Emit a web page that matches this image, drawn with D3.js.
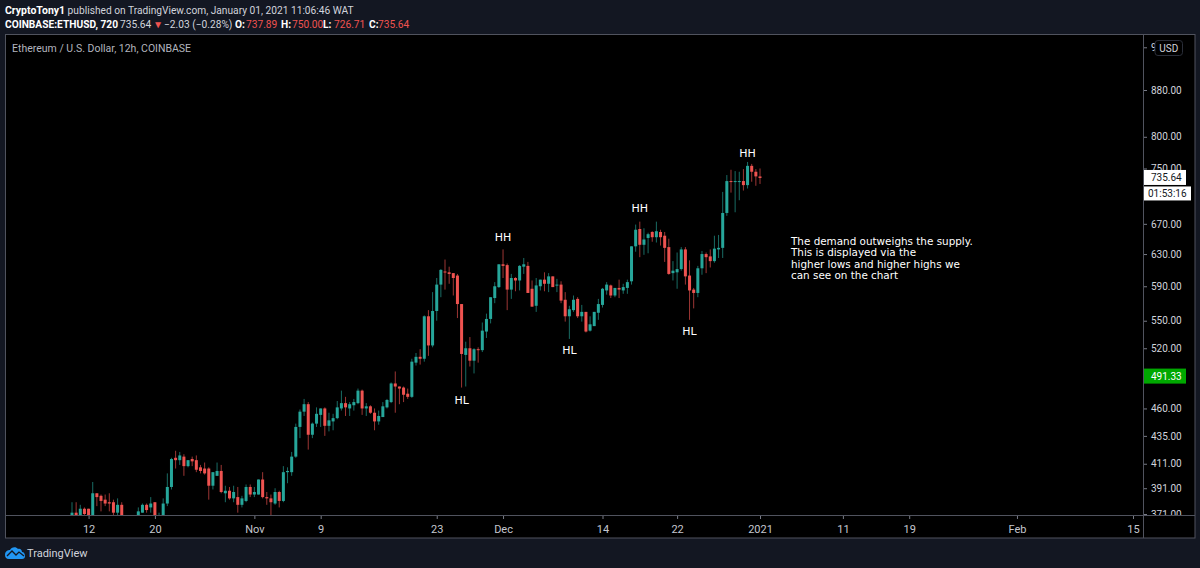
<!DOCTYPE html>
<html>
<head>
<meta charset="utf-8">
<script src="https://cdn.jsdelivr.net/npm/d3@7"></script>
<style>
  html, body { margin: 0; padding: 0; background: #131722; }
  svg { display: block; }
  text { font-family: Roboto, "Open Sans", sans-serif; }
</style>
</head>
<body>
<svg id="chart" width="1200" height="568"></svg>
<script>
// 12h candles
const opens = [367,372,368,375,375,367,387,385,382,380,380,372,378,368,363,364,367,372,378,376,380,367,367,379,392,416,414,417,409,415,414,408,407,407,393,401,405,387,389,383,384,378,381,392,386,386,398,384,383,379,388,381,404,404,417,443,457,464,436,446,454,460,444,448,451,460,465,460,463,465,477,460,462,456,448,452,461,466,484,481,480,474,471,505,511,509,555,523,561,592,608,607,606,603,569,513,520,507,519,518,538,552,576,589,617,616,586,600,597,614,615,587,567,590,598,593,602,591,592,574,555,562,575,555,560,539,544,559,568,585,591,579,588,585,588,596,640,663,642,651,659,652,659,654,639,606,607,611,636,603,586,582,612,630,627,621,636,638,685,731,730,730,731,725,754,745,737.89];
const highs = [380,380,378,376,375,396,387,386,386,387,382,383,380,370,367,370,376,379,379,384,380,372,383,403,416,422,421,419,414,417,418,410,412,408,404,412,410,393,392,393,392,385,394,394,392,398,404,388,386,391,389,409,408,421,446,459,469,466,447,461,460,461,456,455,467,477,471,466,469,479,478,465,463,460,458,466,469,485,496,481,481,479,509,515,519,556,562,583,600,611,623,614,606,605,569,527,532,520,521,548,558,577,595,617,636,618,605,601,616,625,620,597,600,598,607,606,602,599,596,583,567,579,577,568,560,555,560,575,588,595,592,588,598,593,598,640,669,673,664,658,660,673,662,659,650,621,632,639,639,622,588,615,634,632,636,654,655,715,740,748,746,745,749,760,757,749,750];
const lows = [363,364,365,370,364,365,377,373,377,373,369,369,365,363,360,361,365,372,372,372,364,364,365,377,390,407,410,401,408,409,404,403,402,382,390,401,387,380,382,380,372,376,380,384,384,386,383,378,368,378,376,380,395,401,416,433,453,423,433,443,443,435,439,440,450,458,453,453,458,464,454,453,455,440,445,452,460,465,456,464,466,469,470,502,503,506,512,521,550,577,586,593,579,553,480,481,501,494,505,516,531,547,570,588,600,562,575,584,585,605,582,566,560,585,584,583,589,583,570,549,530,560,553,549,537,538,544,551,565,580,576,577,576,581,581,592,633,626,629,631,646,645,641,620,604,597,587,609,592,551,564,577,604,606,613,619,625,625,681,714,686,703,717,720,730,724,726.71];
const closes = [372,368,375,371,367,387,384,381,379,379,372,378,367,365,365,368,373,378,374,379,367,369,379,392,415,414,418,409,414,413,406,405,403,393,404,405,388,389,383,388,378,383,392,386,388,398,384,383,380,388,381,404,405,417,443,457,464,436,446,455,460,444,449,451,461,465,461,464,466,477,460,462,456,448,453,462,468,484,481,479,473,471,506,511,509,555,523,561,592,610,607,605,600,569,514,520,507,519,518,539,552,577,590,617,615,586,600,597,615,617,582,566,591,598,593,602,589,592,573,555,563,574,555,560,538,546,560,569,587,592,579,588,586,589,595,640,662,642,649,656,652,660,652,638,605,609,611,636,602,585,582,612,630,626,621,637,638,685,731,730,731,731,725,754,745,738,735.64];

const priceTicks = [960,880,800,750,670,630,590,550,520,460,435,411,391,371];
const timeTickBars = [4,20,44,60,88,104,128,146,166,186,202,228,256];
const timeTickLabels = ['12','20','Nov','9','23','Dec','14','22','2021','11','19','Feb','15'];

const noteBars = [163,137,104,94,120,149];
const noteNames = ['HH','HH','HH','HL','HL','HL'];
const notePrices = [768,686,647,464,514,534];
const noteLines = ['The demand outweighs the supply.','This is displayed via the','higher lows and higher highs we','can see on the chart'];

const lastPrice = 735.64;
const greenPrice = 491.33;

const UP = '#26a69a', DOWN = '#ef5350';

const svg = d3.select('#chart');
const plot = { left: 6, right: 1144, top: 35, bottom: 516 };

const x = d3.scaleLinear().domain([0, 166]).range([72, 760]);
const y = d3.scaleLog().domain([371, 880]).range([514, 90]);

// frame
svg.append('rect').attr('x', 5.5).attr('y', 34.5).attr('width', 1189.5).attr('height', 503.5)
  .attr('fill', '#000').attr('stroke', '#50535e');

const defs = svg.append('defs');
defs.append('clipPath').attr('id', 'plotClip').append('rect')
  .attr('x', plot.left).attr('y', plot.top).attr('width', plot.right - plot.left).attr('height', plot.bottom - plot.top);
defs.append('clipPath').attr('id', 'priceClip').append('rect')
  .attr('x', plot.right).attr('y', plot.top).attr('width', 51).attr('height', plot.bottom - plot.top - 1);

// candles
const candles = svg.append('g').attr('clip-path', 'url(#plotClip)')
  .selectAll('g').data(opens).enter().append('g')
  .attr('fill', (d, i) => closes[i] >= d ? UP : DOWN)
  .attr('stroke', (d, i) => closes[i] >= d ? UP : DOWN);

candles.append('line')
  .attr('x1', (d, i) => x(i)).attr('x2', (d, i) => x(i))
  .attr('y1', (d, i) => y(highs[i])).attr('y2', (d, i) => y(lows[i]))
  .attr('stroke-width', 1).attr('stroke-opacity', 0.65);

candles.append('rect')
  .attr('x', (d, i) => x(i) - 1.5).attr('width', 3)
  .attr('y', (d, i) => y(Math.max(d, closes[i])))
  .attr('height', (d, i) => Math.max(1, Math.abs(y(d) - y(closes[i]))))
  .attr('stroke', 'none');

// axes lines
svg.append('line').attr('x1', plot.left).attr('x2', 1195).attr('y1', 515.5).attr('y2', 515.5).attr('stroke', '#50535e');
svg.append('line').attr('x1', 1143.5).attr('x2', 1143.5).attr('y1', 35).attr('y2', 538).attr('stroke', '#50535e');

// time axis
const timeAxis = svg.append('g').attr('transform', 'translate(0,516)')
  .call(d3.axisBottom(x).tickValues(timeTickBars).tickSize(3).tickPadding(6)
    .tickFormat((d, i) => timeTickLabels[i]));
timeAxis.select('.domain').remove();
timeAxis.selectAll('line').attr('stroke', '#787b86');
timeAxis.selectAll('text').attr('fill', '#c4c7cf').style('font-size', '11px');

// price axis
const priceAxis = svg.append('g').attr('clip-path', 'url(#priceClip)').append('g').attr('transform', 'translate(1144,0)')
  .call(d3.axisRight(y).tickValues(priceTicks).tickSize(3).tickPadding(4)
    .tickFormat(d => d.toFixed(2)));
priceAxis.select('.domain').remove();
priceAxis.selectAll('line').attr('stroke', '#787b86');
priceAxis.selectAll('text').attr('fill', '#d1d4dc').style('font-size', '10px');

// price tags
function tag(cy, w, h, fill, color, label, textX) {
  const g = svg.append('g');
  g.append('rect').attr('x', 1144).attr('y', cy - h / 2).attr('width', w).attr('height', h).attr('fill', fill);
  g.append('text').attr('x', textX).attr('y', cy + 3.6).attr('fill', color)
    .style('font-size', '10px').text(label);
}
tag(y(lastPrice) - 0.5, 42, 15, '#fff', '#131722', lastPrice.toFixed(2), 1151);
tag(y(lastPrice) + 15.5, 47, 14, '#fff', '#131722', '01:53:16', 1148);
tag(y(greenPrice), 42, 15, '#00a800', '#fff', greenPrice.toFixed(2), 1151);

// USD button
svg.append('rect').attr('x', 1155).attr('y', 40.5).attr('width', 27.5).attr('height', 15).attr('rx', 3)
  .attr('fill', '#000').attr('stroke', '#2a2e39');
svg.append('text').attr('x', 1168.7).attr('y', 51.5).attr('text-anchor', 'middle')
  .attr('fill', '#d1d4dc').style('font-size', '10px').text('USD');

// HH / HL notes
svg.append('g').selectAll('text').data(noteNames).enter().append('text')
  .attr('x', (d, i) => x(noteBars[i]))
  .attr('y', (d, i) => y(notePrices[i]))
  .attr('text-anchor', 'middle').attr('fill', '#fff')
  .style('font-size', '11px').style('font-family', '"DejaVu Sans", sans-serif')
  .text(d => d);

// text note
svg.append('g').selectAll('text').data(noteLines).enter().append('text')
  .attr('x', 791).attr('y', (d, i) => 245 + i * 11.3)
  .attr('fill', '#fff').style('font-size', '10.4px').style('font-family', '"DejaVu Sans", sans-serif')
  .text(d => d);

// title inside chart
svg.append('text').attr('x', 12).attr('y', 51.5).attr('fill', '#b2b5be')
  .style('font-size', '10.5px').text('Ethereum / U.S. Dollar, 12h, COINBASE');

// header
const head1 = svg.append('text').attr('x', 5).attr('y', 14).attr('fill', '#d1d4dc').style('font-size', '10.2px');
head1.append('tspan').attr('font-weight', 700).attr('fill', '#fff').style('font-size', '10.5px').text('CryptoTony1');
head1.append('tspan').text(' published on TradingView.com, January 01, 2021 11:06:46 WAT');

function headText(px, txt, color, bold) {
  svg.append('text').attr('x', px).attr('y', 28).attr('fill', color)
    .attr('font-weight', bold ? 700 : 400).style('font-size', '10.2px').text(txt);
}
headText(5, 'COINBASE:ETHUSD, 720', '#fff', true);
headText(120, '735.64', '#d1d4dc');
headText(153, '▼', '#ef5350');
headText(164, '−2.03 (−0.28%)', '#d1d4dc');
headText(235, 'O:', '#fff', true);
headText(246, '737.89', '#ef5350');
headText(281, 'H:', '#fff', true);
headText(292, '750.00', '#ef5350');
headText(323, 'L:', '#fff', true);
headText(334, '726.71', '#ef5350');
headText(369, 'C:', '#fff', true);
headText(378, '735.64', '#ef5350');

// footer logo
svg.append('path')
  .attr('d', 'M5 555 C5 551 8 550 10 550 C11 547 16 546 18 549 C20 548 22 550 22 552 C24 552 25 554 25 556 C25 558 24 559 22 559 L9 559 C6 559 5 557 5 555 Z')
  .attr('fill', '#2196f3');
svg.append('path').attr('d', 'M7 556 L12 551 L16 555 L19 552 L24 556')
  .attr('fill', 'none').attr('stroke', '#131722').attr('stroke-width', 1.3);
svg.append('text').attr('x', 27).attr('y', 557).attr('fill', '#d1d4dc')
  .style('font-size', '11px').text('TradingView');
</script>
</body>
</html>
